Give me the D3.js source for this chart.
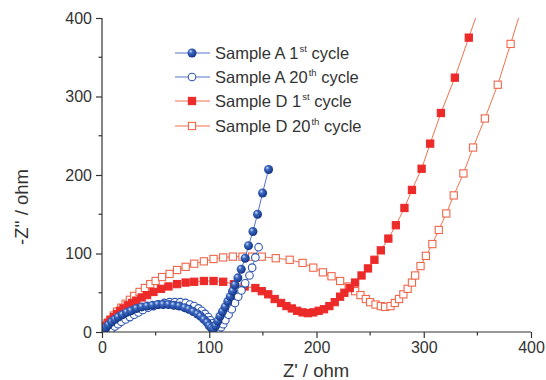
<!DOCTYPE html>
<html>
<head>
<meta charset="utf-8">
<script src="https://cdn.jsdelivr.net/npm/d3@7"></script>
<style>
  body { margin: 0; background: #fff; }
  text { font-family: "Liberation Sans", Arial, sans-serif; fill: #333; }
  .axis path, .axis line { stroke: #333; stroke-width: 1.2; }
  .axis text { font-size: 16px; fill: #333; }
</style>
</head>
<body>
<div id="vis-container"></div>
<script>
// Nyquist plot data [Z', -Z'']
var sampleA1 = [[1,0],[2,3],[4,6],[6,9],[9,13],[12,16],[15,19],[19,22],[23,25],[27,27],[32,30],[37,32],
  [42,33],[47,34],[52,35],[57,35],[62,35],[67,34],[72,33],[77,31],[81,29],[85,26],[89,23],[92,20],
  [95,16],[98,12],[100,8],[102,5],[104,4],[106,8],[108,14],[110,20],[112.3,26],[114.8,32],[117.3,39],
  [119.5,45],[121.7,52],[124,60],[126.7,69],[129.8,80],[133.5,94],[136.6,110],[140.7,128],[145,150],
  [149.7,177],[155.3,207]];
var sampleA20 = [[5,0],[7,2],[9,4],[12,7],[15,10],[18,13],[22,16],[26,19],[30,22],[34,25],[38,28],
  [43,31],[48,33],[53,35],[58,37],[63,38],[68,38],[73,38],[78,37],[82,35],[86,33],[90,30],[93,27],
  [96,23],[99,19],[101,15],[103,11],[105,8],[107,5],[109,4],[111,6],[113,10],[115,15],[118,22],
  [121,29],[124,37],[127,45],[130,53],[133.5,62],[137.5,72],[140,82],[143,95],[146,108]];
var sampleD1 = [[1,0],[2,4],[4,8],[6,12],[8,15],[11,19],[14,23],[17,27],[20,30],[24,34],[28,37],
  [32,40],[37,44],[42,47],[48,51],[55,55],[62,58],[70,61],[78,63],[86,64],[95,65],[104,65],[113,64],
  [123,61],[133,58],[143,56],[149,52],[155,48],[161,42],[167,37],[172,33],[177,30],[182,27],[187,25],
  [192,24],[197,25],[202,27],[207,29],[212,33],[217,38],[222,45],[226,50],[231,56],[236,63],[242,72],
  [248,81],[254,92],[260,104],[267,119],[274,136],[282,158],[289,181],[298,208],[306,240],[316,279],
  [329,324],[342,375],[356,430]];
var sampleD20 = [[1,0],[3,6],[5,11],[8,16],[11,21],[14,26],[18,31],[22,36],[26,41],[30,46],[35,51],
  [40,56],[45,61],[50,65],[56,70],[63,74],[70,79],[78,83],[86,87],[95,90],[104,93],[113,95],[122,96],
  [131,96],[140,96],[149,96],[162,94],[175,92],[187,88],[197,82],[206,76],[214,71],[222,65],[230,58],
  [236,52],[241,47],[246,42],[250,38],[255,35],[260,33],[264,32],[269,33],[273,37],[277,42],[281,48],
  [285,55],[289,63],[292,72],[297,84],[302,97],[308,112],[314,130],[321,151],[328,174],[337,202],
  [346,235],[357,272],[369,315],[381,367],[394,425]];

var xTicks = [0, 100, 200, 300, 400];
var yTicks = [0, 100, 200, 300, 400];
var minorTicks = [50, 150, 250, 350];

var legendLabels = [
  ["Sample A 1", "st", " cycle"],
  ["Sample A 20", "th", " cycle"],
  ["Sample D 1", "st", " cycle"],
  ["Sample D 20", "th", " cycle"]
];

var blueLine = "#5373c4";
var redLine = "#f2714f";
var redFill = "#ec2a2a";
var redOpen = "#f0664a";

var width = 546;
var height = 380;
var margins = { top: 18, right: 15, bottom: 48, left: 102 };
var visWidth = 531 - margins.left;
var visHeight = 332 - margins.top;

var svg = d3.select("#vis-container").append("svg")
    .attr("width", width)
    .attr("height", height);

var defs = svg.append("defs");
var grad = defs.append("radialGradient")
    .attr("id", "sphere")
    .attr("cx", "40%").attr("cy", "40%").attr("r", "60%")
    .attr("fx", "35%").attr("fy", "30%");
grad.append("stop").attr("offset", "0%").attr("stop-color", "#d5e2f7");
grad.append("stop").attr("offset", "35%").attr("stop-color", "#3c68c2");
grad.append("stop").attr("offset", "100%").attr("stop-color", "#123585");

defs.append("clipPath").attr("id", "plot-clip")
  .append("rect")
    .attr("x", 0).attr("y", 0)
    .attr("width", visWidth).attr("height", visHeight);

var viewport = svg.append("g")
    .attr("transform", "translate(" + margins.left + "," + margins.top + ")");

var x = d3.scaleLinear().domain([0, 400]).range([0, visWidth]);
var y = d3.scaleLinear().domain([0, 400]).range([visHeight, 0]);

var lineGen = d3.line().x(d => x(d[0])).y(d => y(d[1]));

var visualization = viewport.append("g").attr("clip-path", "url(#plot-clip)");

function drawSquares(data, lineColor, fill, stroke) {
  visualization.append("path")
      .attr("d", lineGen(data))
      .attr("fill", "none")
      .attr("stroke", lineColor)
      .attr("stroke-width", 1);
  visualization.append("g").selectAll("rect")
      .data(data).enter()
    .append("rect")
      .attr("x", d => x(d[0]) - 3.6)
      .attr("y", d => y(d[1]) - 3.6)
      .attr("width", 7.2)
      .attr("height", 7.2)
      .attr("fill", fill)
      .attr("stroke", stroke)
      .attr("stroke-width", 1.1);
}

function drawCircles(data, fill, stroke, r) {
  visualization.append("path")
      .attr("d", lineGen(data))
      .attr("fill", "none")
      .attr("stroke", blueLine)
      .attr("stroke-width", 1);
  visualization.append("g").selectAll("circle")
      .data(data).enter()
    .append("circle")
      .attr("cx", d => x(d[0]))
      .attr("cy", d => y(d[1]))
      .attr("r", r)
      .attr("fill", fill)
      .attr("stroke", stroke)
      .attr("stroke-width", 1.1);
}

drawSquares(sampleD20, redLine, "#fff", redOpen);
drawSquares(sampleD1, redLine, redFill, redFill);
drawCircles(sampleA20, "#fff", "#2f55b0", 3.8);
drawCircles(sampleA1, "url(#sphere)", "none", 4.5);

// axes
var axisG = viewport.append("g");

var xAxis = axisG.append("g")
    .attr("class", "axis")
    .attr("transform", "translate(0," + visHeight + ")")
    .call(d3.axisBottom(x).tickValues(xTicks).tickSize(6).tickPadding(4));
xAxis.append("g").selectAll("line")
    .data(minorTicks).enter()
  .append("line")
    .attr("x1", d => x(d)).attr("x2", d => x(d))
    .attr("y1", 0).attr("y2", 3.5);

var yAxis = axisG.append("g")
    .attr("class", "axis")
    .call(d3.axisLeft(y).tickValues(yTicks).tickSize(6).tickPadding(4));
yAxis.append("g").selectAll("line")
    .data(minorTicks).enter()
  .append("line")
    .attr("y1", d => y(d)).attr("y2", d => y(d))
    .attr("x1", 0).attr("x2", -3.5);

axisG.selectAll(".domain").attr("d", null);
axisG.append("line")
    .attr("x1", 0).attr("x2", visWidth)
    .attr("y1", visHeight).attr("y2", visHeight)
    .attr("stroke", "#333").attr("stroke-width", 1.2);
axisG.append("line")
    .attr("x1", 0).attr("x2", 0)
    .attr("y1", 0).attr("y2", visHeight)
    .attr("stroke", "#333").attr("stroke-width", 1.2);

// axis titles
svg.append("text")
    .attr("x", 316).attr("y", 377)
    .attr("text-anchor", "middle")
    .style("font-size", "18.5px")
    .text("Z' / ohm");

svg.append("text")
    .attr("transform", "translate(28,207) rotate(-90)")
    .attr("text-anchor", "middle")
    .style("font-size", "18.5px")
    .text("-Z'' / ohm");

// legend
var legendY = [53, 77, 101, 126];
var legend = svg.append("g");
legendLabels.forEach(function(lab, i) {
  var row = legend.append("g").attr("transform", "translate(0," + legendY[i] + ")");
  row.append("line")
      .attr("x1", 175).attr("x2", 210)
      .attr("y1", 0).attr("y2", 0)
      .attr("stroke", i < 2 ? blueLine : redLine)
      .attr("stroke-width", 1);
  if (i === 0) {
    row.append("circle").attr("cx", 192).attr("cy", 0).attr("r", 4.5).attr("fill", "url(#sphere)");
  } else if (i === 1) {
    row.append("circle").attr("cx", 192).attr("cy", 0).attr("r", 3.8)
        .attr("fill", "#fff").attr("stroke", "#2f55b0").attr("stroke-width", 1.1);
  } else {
    row.append("rect").attr("x", 188.4).attr("y", -3.6).attr("width", 7.2).attr("height", 7.2)
        .attr("fill", i === 2 ? redFill : "#fff")
        .attr("stroke", i === 2 ? redFill : redOpen).attr("stroke-width", 1.1);
  }
  var t = row.append("text")
      .attr("x", 215).attr("y", 6)
      .style("font-size", "16.5px");
  t.append("tspan").text(lab[0]);
  t.append("tspan").attr("dy", -7).attr("dx", 1).style("font-size", "9.5px").text(lab[1]);
  t.append("tspan").attr("dy", 7).text(lab[2]);
});
</script>
</body>
</html>
